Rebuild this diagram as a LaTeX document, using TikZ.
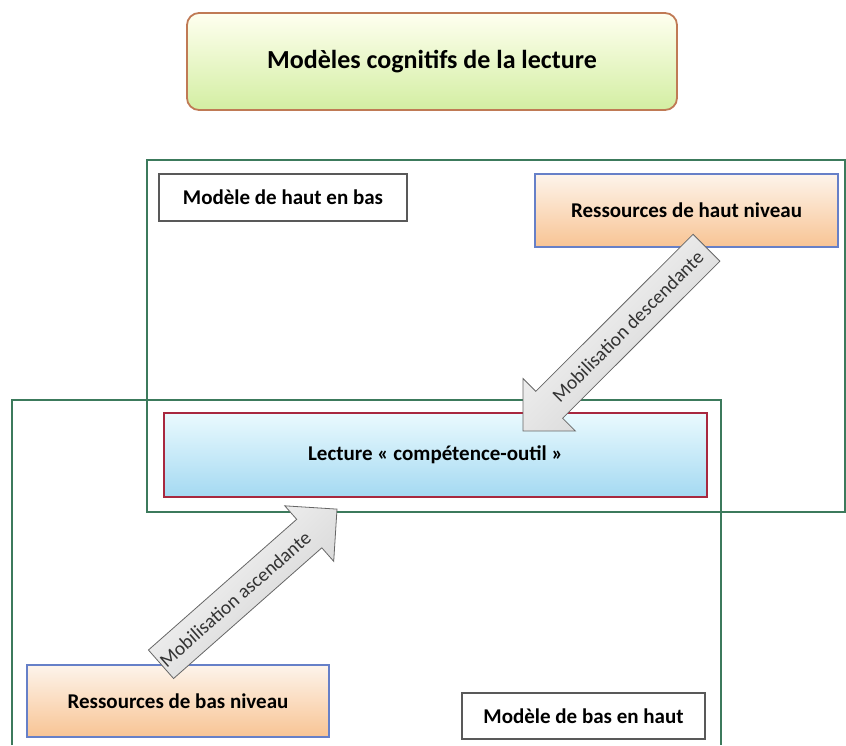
\documentclass[tikz,border=0pt]{standalone}
\usepackage{fontspec}
\setmainfont{Carlito}
\usepackage{tikz}
\usetikzlibrary{calc}

\definecolor{framegreen}{HTML}{3C7A5C}
\definecolor{titleedge}{HTML}{C07A55}
\definecolor{resedge}{HTML}{6680C8}
\definecolor{lectedge}{HTML}{A8283F}

\tikzset{
  frame/.style={draw=framegreen, line width=1.2pt},
  titlebox/.style={draw=titleedge, line width=1.8pt, rounded corners=12pt, top color=green!2!yellow!6, bottom color={rgb,255:red,211;green,238;blue,162}, font=\fontsize{26}{30}\selectfont\bfseries},
  modelbox/.style={draw=black!65, line width=2.2pt, fill=white, font=\fontsize{21}{25}\selectfont\bfseries},
  resbox/.style={draw=resedge, line width=1.5pt, top color={rgb,255:red,253;green,244;blue,235}, bottom color={rgb,255:red,248;green,196;blue,148}, font=\fontsize{21}{25}\selectfont\bfseries},
  lectbox/.style={draw=lectedge, line width=2.2pt, top color={rgb,255:red,234;green,250;blue,254}, bottom color={rgb,255:red,164;green,217;blue,242}, font=\fontsize{21}{25}\selectfont\bfseries},
  fatarrow/.style={draw=black!60, line width=0.8pt, top color=gray!3, bottom color=gray!38, shading angle=45},
  arrowtext/.style={font=\fontsize{19.5}{21}\selectfont, black!80, inner sep=1pt}
}

\begin{document}
\begin{tikzpicture}[x=1pt,y=-1pt]
\useasboundingbox (0,0) rectangle (846,745);
% cadres
\draw[frame] (147,160) rectangle (845,512);
\draw[frame] (12,745) |- (721,400) -- (721,745);
% boites
\node[titlebox, minimum width=490pt, minimum height=97pt] (titre) at (432,61.5) {Modèles cognitifs de la lecture};
\node[modelbox, minimum width=248pt, minimum height=47pt] (hautbas) at (283,197.5) {Modèle de haut en bas};
\node[resbox, minimum width=303pt, minimum height=73pt] (hautres) at (686.5,210.5) {Ressources de haut niveau};
\node[lectbox, minimum width=543pt, minimum height=84pt] (lecture) at (435.5,455) {Lecture « compétence-outil »};
\node[resbox, minimum width=302pt, minimum height=72pt] (basres) at (178,701) {Ressources de bas niveau};
\node[modelbox, minimum width=243pt, minimum height=46pt] (bashaut) at (583.5,716) {Modèle de bas en haut};
% fleche descendante
\coordinate (dtail) at ([xshift=20pt]hautres.south);
\coordinate (dtip) at ([xshift=87.5pt,yshift=-19pt]lecture.north);
\coordinate (dhead) at ($(dtip)!37pt!(dtail)$);
\draw[fatarrow] ($(dtail)!19pt!90:(dtip)$) -- ($(dhead)!19pt!90:(dtip)$) -- ($(dhead)!37pt!90:(dtip)$) -- (dtip)
  -- ($(dhead)!37pt!-90:(dtip)$) -- ($(dhead)!19pt!-90:(dtip)$) -- ($(dtail)!19pt!-90:(dtip)$) -- cycle;
\path (dtail) -- (dhead) node[midway, sloped, arrowtext] (dlabel) {Mobilisation descendante};
% fleche ascendante
\coordinate (atail) at ([xshift=-17pt]basres.north);
\coordinate (atip) at ([xshift=-98.5pt,yshift=-11pt]lecture.south);
\coordinate (ahead) at ($(atip)!37pt!(atail)$);
\draw[fatarrow] ($(atail)!19pt!90:(atip)$) -- ($(ahead)!19pt!90:(atip)$) -- ($(ahead)!37pt!90:(atip)$) -- (atip)
  -- ($(ahead)!37pt!-90:(atip)$) -- ($(ahead)!19pt!-90:(atip)$) -- ($(atail)!19pt!-90:(atip)$) -- cycle;
\path (atail) -- (ahead) node[midway, sloped, arrowtext] (alabel) {Mobilisation ascendante};
\end{tikzpicture}
\end{document}
